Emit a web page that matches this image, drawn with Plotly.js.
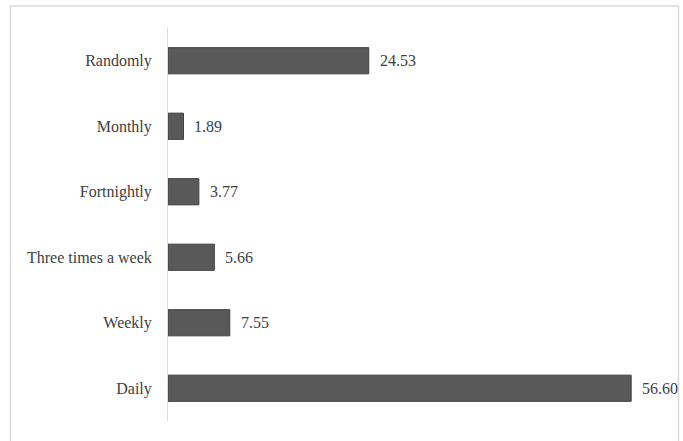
<!DOCTYPE html>
<html>
<head>
<meta charset="utf-8">
<script src="https://cdn.plot.ly/plotly-3.0.1.min.js"></script>
</head>
<body style="margin:0;padding:0;background:#fff">
<div id="chart" style="width:683px;height:441px"></div>
<script>
const categories = ["Daily", "Weekly", "Three times a week", "Fortnightly", "Monthly", "Randomly"];
const values = [56.60, 7.55, 5.66, 3.77, 1.89, 24.53];
const labels = ["56.60", "7.55", "5.66", "3.77", "1.89", "24.53"];

function mkFont() {
  return {family: "Liberation Serif", size: 16, color: "#404040"};
}

const trace = {
  type: "bar",
  orientation: "h",
  x: values,
  y: categories,
  marker: {color: "#595959", line: {color: "#404040", width: 1}},
  hoverinfo: "none"
};

const annotations = categories.map((c, i) => ({
  x: values[i], y: c, xref: "x", yref: "y",
  text: labels[i], showarrow: false, xanchor: "left", xshift: 9,
  font: mkFont()
}));

const layout = {
  width: 683, height: 441,
  margin: {l: 168, r: 24, t: 28, b: 20},
  paper_bgcolor: "#fff", plot_bgcolor: "#fff",
  showlegend: false,
  bargap: 0.6,
  font: mkFont(),
  xaxis: {visible: false, range: [0, 60], fixedrange: true},
  yaxis: {
    type: "category",
    showline: true, linecolor: "#d9d9d9", linewidth: 1,
    showgrid: false, zeroline: false,
    ticks: "", ticklabelstandoff: 12,
    tickfont: mkFont(), automargin: false
  },
  annotations: annotations,
  shapes: [{
    type: "rect", xref: "paper", yref: "paper",
    x0: -0.3208, x1: 1.0397, y0: -0.07, y1: 1.056,
    line: {color: "#d9d9d9", width: 1.5}, fillcolor: "rgba(0,0,0,0)", layer: "below"
  }]
};

Plotly.newPlot("chart", [trace], layout, {displayModeBar: false});
</script>
</body>
</html>
